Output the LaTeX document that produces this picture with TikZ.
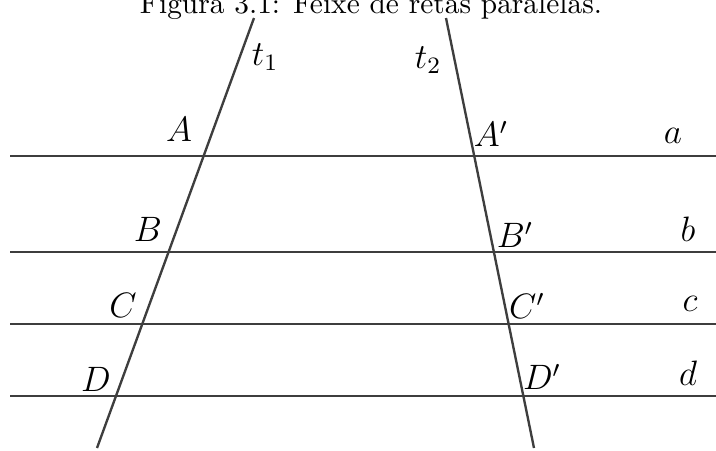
\documentclass[tikz,border=0pt]{standalone}
\usepackage{amsmath,amssymb}
\usepackage{xcolor}
\usepackage{tikz}
\usetikzlibrary{calc,positioning}
\definecolor{retaGray}{RGB}{62,62,62}

\begin{document}
\begin{tikzpicture}[x=0.34pt,y=-0.34pt]
\useasboundingbox (0,0) rectangle (716,450);
\tikzset{
  reta/.style={retaGray, line width=1.0pt},
  transv/.style={retaGray, line width=0.8pt},
  rotulo/.style={inner sep=0pt, font=\large}
}
\node[anchor=base] (titulo) at (371,13) {Figura 3.1: Feixe de retas paralelas.};

% retas paralelas
\foreach \y/\n in {156/a,252/b,324/c,396/d}{
  \coordinate (\n0) at (10,\y);
  \coordinate (\n1) at (716,\y);
  \draw[reta] (\n0)--(\n1);
}

% transversais
\coordinate (t1top) at (254,18);
\coordinate (t1bot) at (97,448);
\coordinate (t2top) at (446,18);
\coordinate (t2bot) at (534,448);
\draw[transv] (t1top)--(t1bot);
\draw[transv] (t2top)--(t2bot);

\node[rotulo] (lt1) at (265,57) {$t_1$};
\node[rotulo] (lt2) at (428,60) {$t_2$};

\node[rotulo] (lA) at (179,129) {$A$};
\node[rotulo] (lB) at (148,229) {$B$};
\node[rotulo] (lC) at (123,305) {$C$};
\node[rotulo] (lD) at (96,379) {$D$};

\node[rotulo] (lA') at (491,134) {$A'$};
\node[rotulo] (lB') at (515,235) {$B'$};
\node[rotulo] (lC') at (527,306) {$C'$};
\node[rotulo] (lD') at (542,377) {$D'$};

\node[rotulo] (la) at (673,136) {$a$};
\node[rotulo] (lb) at (688,229) {$b$};
\node[rotulo] (lc) at (690,304) {$c$};
\node[rotulo] (ld) at (688,373) {$d$};
\end{tikzpicture}
\end{document}
